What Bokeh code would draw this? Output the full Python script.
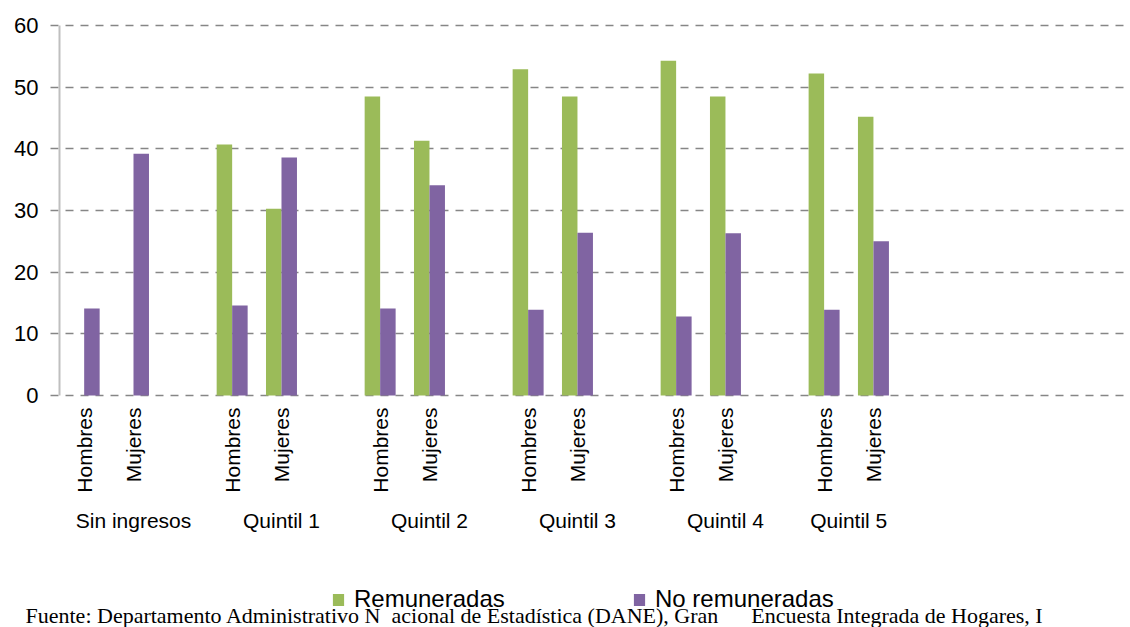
import math
from bokeh.plotting import figure
from bokeh.models import Range1d, FixedTicker, Label, Legend, LegendItem, LinearAxis
from bokeh.embed import file_html
from bokeh.resources import INLINE

# ---- data ----
groups = ["Sin ingresos", "Quintil 1", "Quintil 2", "Quintil 3", "Quintil 4", "Quintil 5"]
sexes = ["Hombres", "Mujeres"]
remuneradas = [0, 0, 40.7, 30.3, 48.5, 41.3, 52.9, 48.5, 54.3, 48.5, 52.2, 45.2]
no_remuneradas = [14.1, 39.2, 14.6, 38.6, 14.1, 34.1, 13.9, 26.4, 12.8, 26.3, 13.9, 25.0]
y_ticks = [0, 10, 20, 30, 40, 50, 60]
legend_labels = ["Remuneradas", "No remuneradas"]
source_note = ("Fuente: Departamento Administrativo N\u00a0\u00a0acional de Estadística (DANE), "
               "Gran\u00a0\u00a0\u00a0\u00a0\u00a0\u00a0Encuesta Integrada de Hogares, I")

GREEN = "#9BBB59"
PURPLE = "#8064A2"
FONT = "Liberation Sans"

# slot positions: 3 slots per group (Hombres, Mujeres, gap)
slots = [3 * g + s for g in range(len(groups)) for s in range(len(sexes))]
bw = 0.314

# ---- layout geometry (pixels) ----
W, H = 1130, 627
AXIS_X = 59      # pixel column of the y axis
ZERO_Y = 395     # pixel row of value 0
TOP_Y = 25       # pixel row of value 60
slot_px = 49.33
px_per_unit = (ZERO_Y - TOP_Y) / 60.0

def dx(px):
    return -0.5 + (px - AXIS_X) / slot_px

def dy(py):
    return (ZERO_Y - py) / px_per_unit

p = figure(width=W, height=H, output_backend="svg", toolbar_location=None,
           x_range=Range1d(dx(0), dx(W)), y_range=Range1d(dy(H), dy(0)),
           min_border=0, outline_line_color=None,
           background_fill_color="white", border_fill_color="white")

r1 = p.vbar(x=[s - bw / 2 for s in slots], top=remuneradas, width=bw,
            fill_color=GREEN, line_color=None)
r2 = p.vbar(x=[s + bw / 2 for s in slots], top=no_remuneradas, width=bw,
            fill_color=PURPLE, line_color=None)

# ---- y axis + grid ----
ya = p.yaxis[0]
ya.fixed_location = -0.5
ya.bounds = (0, 60)
ya.ticker = FixedTicker(ticks=y_ticks)
ya.axis_line_color = "#BFBFBF"
ya.axis_line_width = 2
ya.major_tick_in = 0
ya.major_tick_out = 0
ya.minor_tick_line_color = None
ya.major_tick_line_color = None
ya.major_label_text_font = FONT
ya.major_label_text_font_size = "22px"
ya.major_label_text_color = "black"
ya.major_label_standoff = 21

p.xgrid.visible = False
g = p.ygrid[0]
g.ticker = FixedTicker(ticks=y_ticks)
g.bounds = (0, 60)
g.cross_bounds = (dx(50), dx(W))
g.grid_line_color = "#868686"
g.grid_line_dash = "8 7"
g.grid_line_width = 1.5

# ---- x axis (Hombres / Mujeres) ----
xa = p.xaxis[0]
xa.fixed_location = 0
xa.ticker = FixedTicker(ticks=slots)
xa.major_label_overrides = {s: sexes[i % 2] for i, s in enumerate(slots)}
xa.major_label_orientation = math.pi / 2
xa.axis_line_color = None
xa.major_tick_line_color = None
xa.minor_tick_line_color = None
xa.major_label_text_font = FONT
xa.major_label_text_font_size = "21px"
xa.major_label_text_color = "black"
xa.major_label_standoff = 6

# ---- group axis (Sin ingresos / Quintil n) ----
group_centers = [3 * k + 1 for k in range(len(groups))]
group_centers[-1] = 15.5
ga = LinearAxis(fixed_location=0, ticker=FixedTicker(ticks=group_centers),
                major_label_overrides={c: n for c, n in zip(group_centers, groups)},
                axis_line_color=None, major_tick_line_color=None,
                minor_tick_line_color=None, major_label_text_font=FONT,
                major_label_text_font_size="21px", major_label_text_color="black",
                major_label_standoff=107)
p.add_layout(ga, "below")

# ---- legend ----
legend = Legend(items=[LegendItem(label=legend_labels[0], renderers=[r1]),
                       LegendItem(label=legend_labels[1], renderers=[r2])],
                orientation="horizontal", location=(331, 14),
                padding=0, margin=0, spacing=0, glyph_width=14, glyph_height=15,
                label_standoff=9, label_width=278, label_height=20,
                label_text_font=FONT, label_text_font_size="24px",
                label_text_color="black", border_line_color=None,
                background_fill_alpha=0)
p.add_layout(legend)

# ---- source note ----
p.add_layout(Label(x=dx(25), y=dy(615), text=source_note,
                   text_align="left", text_baseline="alphabetic",
                   text_font="Liberation Serif", text_font_size="22px",
                   text_color="black"))

open("out.html", "w").write(file_html(p, INLINE))
